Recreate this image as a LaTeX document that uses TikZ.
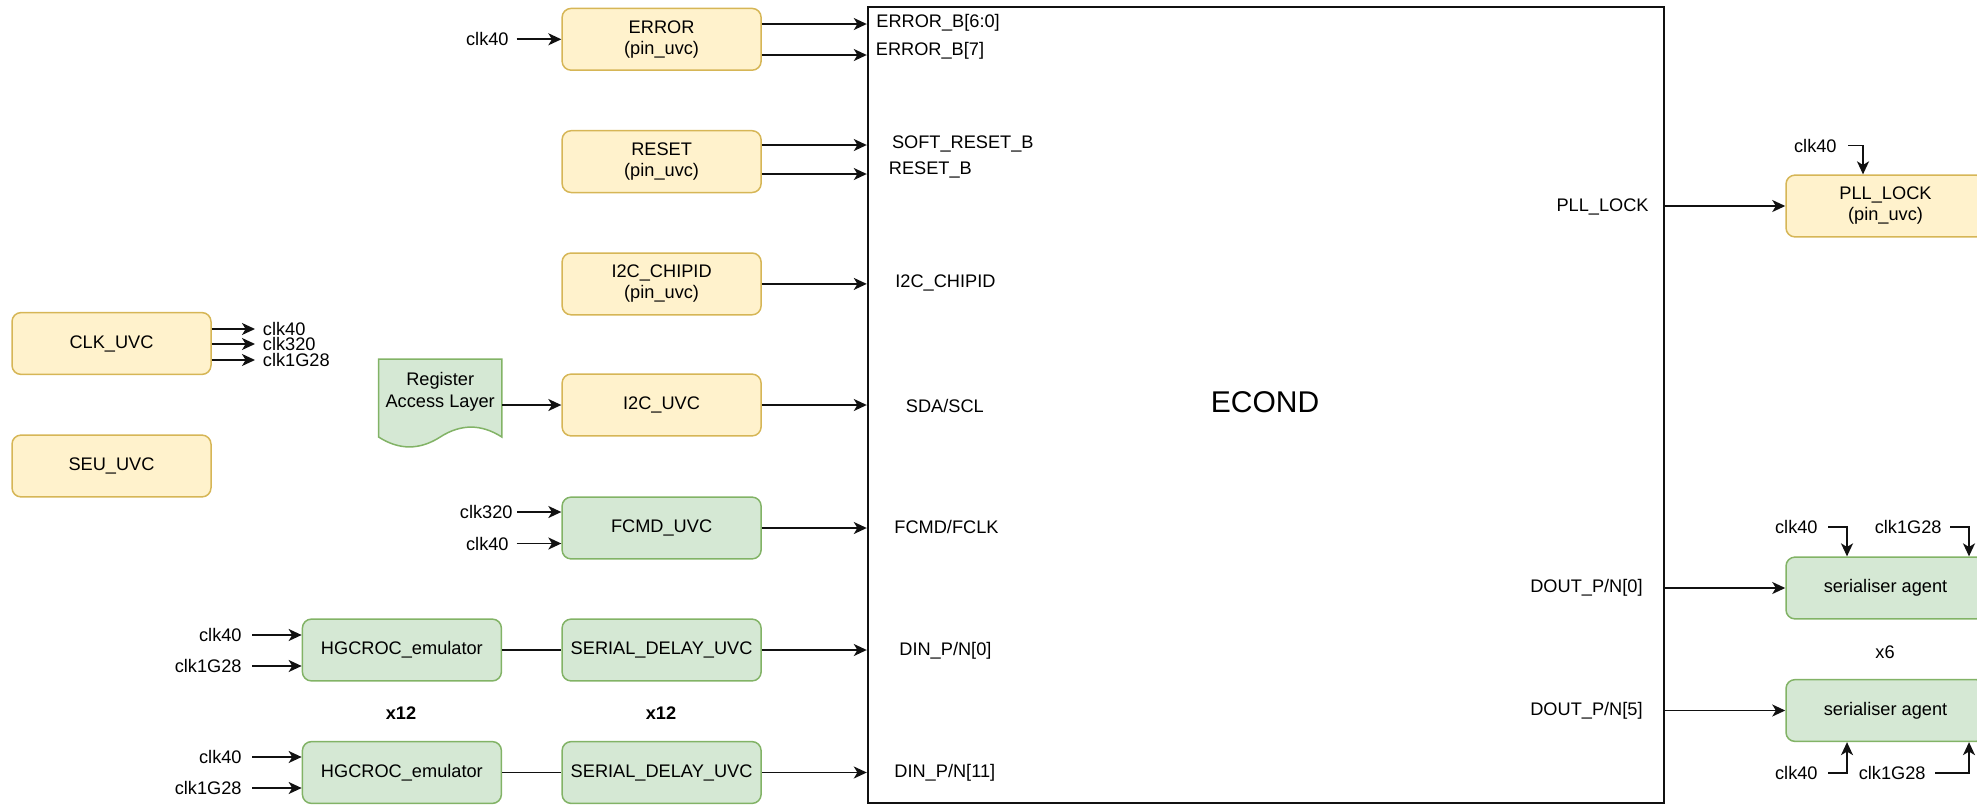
\documentclass[tikz,border=0pt]{standalone}
\usepackage{fontspec}
\setmainfont{Liberation Sans}
\usetikzlibrary{arrows.meta}
\definecolor{yfill}{HTML}{FFF2CC}
\definecolor{ystroke}{HTML}{D6B656}
\definecolor{gfill}{HTML}{D5E8D4}
\definecolor{gstroke}{HTML}{82B366}
\definecolor{edge}{HTML}{111111}
\newcommand{\fs}{\fontsize{9.1}{10.5}\selectfont}
\begin{document}
\begin{tikzpicture}[x=0.5pt,y=-0.5pt,
  box/.style={draw, rounded corners=4.5pt, minimum width=99.5pt, minimum height=30.9pt, inner sep=0pt, align=center, font=\fs, line width=0.75pt},
  ybox/.style={box, draw=ystroke, fill=yfill},
  gbox/.style={box, draw=gstroke, fill=gfill},
  lbl/.style={inner sep=0pt, font=\fs},
  arr/.style={-{Stealth[length=6.5pt,width=6pt,inset=1.8pt]}, line width=0.9pt, draw=edge},
  wire/.style={line width=0.9pt, draw=edge}]
\useasboundingbox (0,0) rectangle (1977,804);
\clip (0,0) rectangle (1977,804);

% ECOND block
\node[draw=edge, line width=1pt, minimum width=398.1pt, minimum height=397.85pt, inner sep=0pt] (econd) at (1265.9,405.15) {};
\node[inner sep=0pt, font=\fontsize{15}{18}\selectfont] (econdlbl) at (1265,402.5) {ECOND};

% left column boxes
\node[ybox] (err) at (661.6,39.3) {ERROR\\(pin\_uvc)};
\node[ybox] (rst) at (661.6,161.6) {RESET\\(pin\_uvc)};
\node[ybox] (chip) at (661.6,283.9) {I2C\_CHIPID\\(pin\_uvc)};
\node[ybox] (i2c) at (661.6,405) {I2C\_UVC};
\node[gbox] (fcmd) at (661.6,528) {FCMD\_UVC};
\node[gbox] (sd1) at (661.6,650) {SERIAL\_DELAY\_UVC};
\node[gbox] (sd2) at (661.6,772.5) {SERIAL\_DELAY\_UVC};
\node[gbox] (hg1) at (401.9,650) {HGCROC\_emulator};
\node[gbox] (hg2) at (401.9,772.5) {HGCROC\_emulator};
\node[ybox] (clk) at (111.5,343.5) {CLK\_UVC};
\node[ybox] (seu) at (111.5,466) {SEU\_UVC};

% right column boxes
\node[ybox] (pll) at (1885.5,206) {PLL\_LOCK\\(pin\_uvc)};
\node[gbox] (ser1) at (1885.5,588) {serialiser agent};
\node[gbox] (ser2) at (1885.5,710.5) {serialiser agent};

% Register Access Layer (document shape)
\draw[draw=gstroke, fill=gfill, line width=0.75pt] (378.6,359) -- (501.8,359) -- (501.8,437)
  .. controls (481.3,423.8) and (460.7,423.8) .. (440.2,437)
  .. controls (419.7,450.2) and (399.1,450.2) .. (378.6,437) -- cycle;
\node[lbl, align=center, font=\fontsize{9.1}{11}\selectfont] (ral) at (440.2,392) {Register\\Access Layer};
\coordinate (ralout) at (501.8,405);
\draw[arr] (ralout) -- (i2c.west);

% ERROR
\node[lbl, anchor=east] (c1) at (509,39.3) {clk40};
\draw[arr] ([xshift=3.75pt]c1.east) -- (err.west);
\draw[arr] ([yshift=7.65pt]err.east) -- ([yshift=7.65pt]err.east -| econd.west);
\draw[arr] ([yshift=-7.85pt]err.east) -- ([yshift=-7.85pt]err.east -| econd.west);
\node[lbl, anchor=west] (l1) at (876,23) {ERROR\_B[6:0]};
\node[lbl, anchor=west] (l2) at (875.5,51) {ERROR\_B[7]};

% RESET
\draw[arr] ([yshift=8.3pt]rst.east) -- ([yshift=8.3pt]rst.east -| econd.west);
\draw[arr] ([yshift=-6.2pt]rst.east) -- ([yshift=-6.2pt]rst.east -| econd.west);
\node[lbl, anchor=west] (l3) at (891.6,144) {SOFT\_RESET\_B};
\node[lbl, anchor=west] (l4) at (888.5,170) {RESET\_B};

% I2C_CHIPID
\draw[arr] (chip.east) -- (chip.east -| econd.west);
\node[lbl, anchor=west] (l5) at (895,283) {I2C\_CHIPID};

% I2C_UVC
\draw[arr] (i2c.east) -- (i2c.east -| econd.west);
\node[lbl, anchor=west] (l6) at (905.5,406) {SDA/SCL};

% FCMD
\node[lbl, anchor=east] (c2) at (513,512) {clk320};
\node[lbl, anchor=east] (c3) at (509,543.5) {clk40};
\draw[arr] ([xshift=2pt]c2.east) -- (c2.east -| fcmd.west);
\draw[arr] ([xshift=3.75pt]c3.east) -- (c3.east -| fcmd.west);
\draw[arr] (fcmd.east) -- (fcmd.east -| econd.west);
\node[lbl, anchor=west] (l7) at (894,527) {FCMD/FCLK};

% DIN rows
\node[lbl, anchor=east] (c4) at (242,635) {clk40};
\node[lbl, anchor=east] (c5) at (242,666) {clk1G28};
\draw[arr] ([xshift=5pt]c4.east) -- (c4.east -| hg1.west);
\draw[arr] ([xshift=5pt]c5.east) -- (c5.east -| hg1.west);
\draw[wire] (hg1.east) -- (sd1.west);
\draw[arr] (sd1.east) -- (sd1.east -| econd.west);
\node[lbl, anchor=west] (l8) at (899,651) {DIN\_P/N[0]};

\node[lbl, font=\fs\bfseries] (x12a) at (401,713) {x12};
\node[lbl, font=\fs\bfseries] (x12b) at (661,713) {x12};

\node[lbl, anchor=east] (c6) at (242,757) {clk40};
\node[lbl, anchor=east] (c7) at (242,788) {clk1G28};
\draw[arr] ([xshift=5pt]c6.east) -- (c6.east -| hg2.west);
\draw[arr] ([xshift=5pt]c7.east) -- (c7.east -| hg2.west);
\draw[wire] (hg2.east) -- (sd2.west);
\draw[arr] (sd2.east) -- (sd2.east -| econd.west);
\node[lbl, anchor=west] (l9) at (894,773) {DIN\_P/N[11]};

% CLK_UVC outputs
\node[lbl, anchor=west] (o1) at (262.5,329) {clk40};
\node[lbl, anchor=west] (o2) at (262.5,344) {clk320};
\node[lbl, anchor=west] (o3) at (262.5,360) {clk1G28};
\draw[arr] (clk.east |- o1) -- ([xshift=-3.75pt]o1.west);
\draw[arr] (clk.east |- o2) -- ([xshift=-3.75pt]o2.west);
\draw[arr] (clk.east |- o3) -- ([xshift=-3.75pt]o3.west);

% right side
\draw[arr] (econd.east |- pll.west) -- (pll.west);
\node[lbl, anchor=east] (r1) at (1649,207) {PLL\_LOCK};
\node[lbl, anchor=east] (pc) at (1837,145.5) {clk40};
\draw[arr] ([xshift=5.5pt]pc.east) -| ([xshift=-11.25pt]pll.north);

\draw[arr] (econd.east |- ser1.west) -- (ser1.west);
\draw[arr] (econd.east |- ser2.west) -- (ser2.west);
\node[lbl, anchor=east] (r2) at (1643,588) {DOUT\_P/N[0]};
\node[lbl, anchor=east] (r3) at (1643,710.5) {DOUT\_P/N[5]};
\node[lbl] (x6) at (1885,652) {x6};

\node[lbl, anchor=east] (s1) at (1818,527) {clk40};
\node[lbl, anchor=east] (s2) at (1942,527) {clk1G28};
\draw[arr] ([xshift=5pt]s1.east) -| ([xshift=-19.25pt]ser1.north);
\draw[arr] ([xshift=4pt]s2.east) -| ([xshift=41.75pt]ser1.north);

\node[lbl, anchor=east] (s3) at (1818,773) {clk40};
\node[lbl, anchor=east] (s4) at (1926,773) {clk1G28};
\draw[arr] ([xshift=5pt]s3.east) -| ([xshift=-19.25pt]ser2.south);
\draw[arr] ([xshift=4.5pt]s4.east) -| ([xshift=41.75pt]ser2.south);
\end{tikzpicture}
\end{document}
